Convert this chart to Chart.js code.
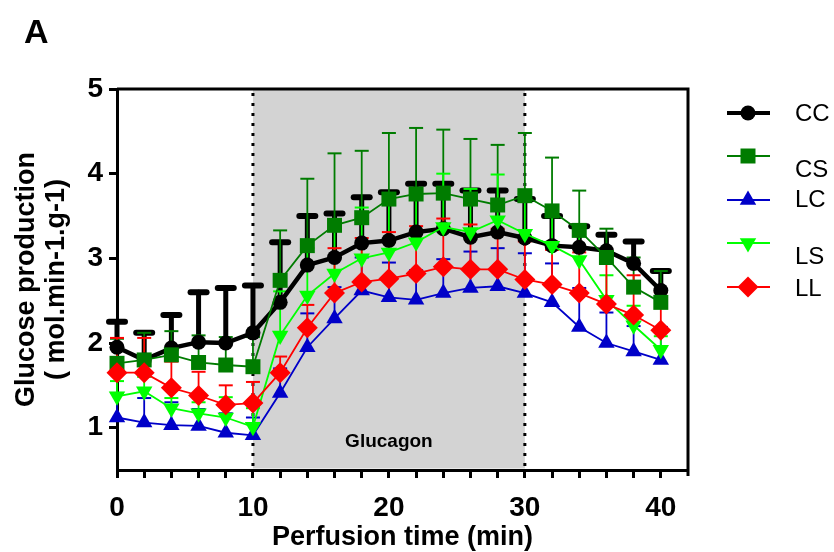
<!DOCTYPE html>
<html>
<head>
<meta charset="utf-8">
<script src="https://cdn.jsdelivr.net/npm/chart.js@4.4.1/dist/chart.umd.min.js"></script>
<style>
  body { margin: 0; background: #fff; }
  canvas { display: block; }
</style>
</head>
<body>
<canvas id="myChart" width="834" height="552"></canvas>
<script>
// perfusion time (min)
var times = [0, 2, 4, 6, 8, 10, 12, 14, 16, 18, 20, 22, 24, 26, 28, 30, 32, 34, 36, 38, 40];

// mean glucose production per group
var ccMean = [1.95, 1.80, 1.94, 2.01, 2.00, 2.12, 2.48, 2.92, 3.01, 3.18, 3.21, 3.31, 3.35, 3.25, 3.31, 3.24, 3.15, 3.13, 3.09, 2.94, 2.62];
var csMean = [1.76, 1.80, 1.86, 1.77, 1.74, 1.72, 2.74, 3.15, 3.39, 3.48, 3.70, 3.76, 3.77, 3.70, 3.63, 3.74, 3.56, 3.33, 3.01, 2.66, 2.48];
var lcMean = [1.12, 1.06, 1.03, 1.02, 0.94, 0.91, 1.41, 1.95, 2.29, 2.62, 2.54, 2.51, 2.59, 2.65, 2.67, 2.59, 2.48, 2.19, 2.00, 1.90, 1.80];
var lsMean = [1.37, 1.43, 1.23, 1.17, 1.12, 1.01, 2.09, 2.56, 2.82, 3.00, 3.07, 3.19, 3.37, 3.31, 3.45, 3.29, 3.15, 2.98, 2.51, 2.21, 1.92];
var llMean = [1.65, 1.65, 1.47, 1.38, 1.27, 1.29, 1.65, 2.18, 2.59, 2.72, 2.76, 2.82, 2.90, 2.87, 2.87, 2.75, 2.69, 2.59, 2.46, 2.33, 2.15];

// upper error (SEM)
var ccErr = [0.30, 0.32, 0.39, 0.59, 0.65, 0.56, 0.71, 0.58, 0.52, 0.54, 0.57, 0.57, 0.53, 0.55, 0.49, 0.46, 0.35, 0.25, 0.19, 0.26, 0.23];
var csErr = [0.29, 0.32, 0.28, 0.32, 0.33, 0.35, 0.59, 0.79, 0.85, 0.79, 0.78, 0.78, 0.75, 0.71, 0.71, 0.74, 0.63, 0.47, 0.34, 0.35, 0.37];
var lcErr = [0.29, 0.29, 0.27, 0.20, 0.23, 0.21, 0.29, 0.40, 0.37, 0.39, 0.41, 0.35, 0.40, 0.43, 0.45, 0.47, 0.46, 0.46, 0.36, 0.30, 0.39];
var lsErr = [0.18, 0.17, 0.12, 0.13, 0.24, 0.22, 0.52, 0.56, 0.51, 0.60, 0.56, 0.55, 0.63, 0.51, 0.54, 0.47, 0.38, 0.39, 0.29, 0.23, 0.16];
var llErr = [0.41, 0.41, 0.31, 0.28, 0.23, 0.25, 0.19, 0.27, 0.53, 0.52, 0.55, 0.56, 0.57, 0.53, 0.48, 0.45, 0.41, 0.48, 0.49, 0.47, 0.45];

var yTicks = [1, 2, 3, 4, 5];
var xLabelTicks = [0, 10, 20, 30, 40];
var glucagonStart = 10, glucagonEnd = 30;

function pts(means) {
  return times.map(function (t, i) { return { x: t, y: means[i] }; });
}

var series = [
  { label: 'CC', data: ccMean, err: ccErr, color: '#000000', style: 'circle', radius: 7.5, rot: 0, width: 4.5, thick: true },
  { label: 'CS', data: csMean, err: csErr, color: '#007c00', style: 'rect', radius: 10.6, rot: 0, width: 1.8 },
  { label: 'LC', data: lcMean, err: lcErr, color: '#0000c8', style: 'triangle', radius: 9.5, rot: 0, width: 1.8 },
  { label: 'LS', data: lsMean, err: lsErr, color: '#00ff00', style: 'triangle', radius: 9.5, rot: 180, width: 1.8 },
  { label: 'LL', data: llMean, err: llErr, color: '#ff0000', style: 'rectRot', radius: 10.5, rot: 0, width: 1.8 }
];

var legendY = [113, 156, 200, 243, 287];
var legendTextY = [114, 170, 200, 257, 289];

var bgPlugin = {
  id: 'bg',
  beforeDatasetsDraw: function (chart) {
    var ctx = chart.ctx, a = chart.chartArea, xs = chart.scales.x, ys = chart.scales.y;
    ctx.save();
    var x1 = xs.getPixelForValue(glucagonStart), x2 = xs.getPixelForValue(glucagonEnd);
    ctx.fillStyle = '#d3d3d3';
    ctx.fillRect(x1, a.top, x2 - x1, a.bottom - a.top - 1.5);

    ctx.fillStyle = '#000';
    ctx.font = 'bold 19px "Liberation Sans", Arial, sans-serif';
    ctx.textAlign = 'center';
    ctx.textBaseline = 'middle';
    ctx.fillText('Glucagon', xs.getPixelForValue(20), 442);

    ctx.strokeStyle = '#000';
    ctx.lineWidth = 3;
    ctx.setLineDash([3, 7]);
    [glucagonStart, glucagonEnd].forEach(function (v) {
      var x = xs.getPixelForValue(v);
      ctx.beginPath();
      ctx.moveTo(x, a.top + 4);
      ctx.lineTo(x, a.bottom);
      ctx.stroke();
    });
    ctx.setLineDash([]);

    // top and right frame
    ctx.beginPath();
    ctx.moveTo(a.left, a.top);
    ctx.lineTo(a.right, a.top);
    ctx.lineTo(a.right, a.bottom + 6);
    ctx.stroke();

    // error bars (upper only)
    series.forEach(function (s) {
      ctx.strokeStyle = s.color;
      ctx.lineCap = s.thick ? 'round' : 'butt';
      var cap = s.thick ? 8 : 7;
      times.forEach(function (t, i) {
        var x = xs.getPixelForValue(t);
        var y0 = ys.getPixelForValue(s.data[i]);
        var y1 = ys.getPixelForValue(s.data[i] + s.err[i]);
        ctx.lineWidth = s.thick ? 5 : 1.8;
        ctx.beginPath();
        ctx.moveTo(x, y0);
        ctx.lineTo(x, y1);
        ctx.stroke();
        ctx.lineWidth = s.thick ? 6 : 2;
        ctx.beginPath();
        ctx.moveTo(x - cap, y1);
        ctx.lineTo(x + cap, y1);
        ctx.stroke();
      });
    });
    ctx.restore();
  },
  afterDraw: function (chart) {
    var ctx = chart.ctx;
    ctx.save();
    ctx.fillStyle = '#000';
    ctx.font = 'bold 34px "Liberation Sans", Arial, sans-serif';
    ctx.textBaseline = 'alphabetic';
    ctx.fillText('A', 24, 43);

    // legend
    series.forEach(function (s, i) {
      var y = legendY[i];
      ctx.strokeStyle = s.color;
      ctx.lineWidth = s.thick ? 4 : 2;
      ctx.beginPath();
      ctx.moveTo(727, y);
      ctx.lineTo(770, y);
      ctx.stroke();
      ctx.fillStyle = s.color;
      Chart.helpers.drawPoint(ctx, { pointStyle: s.style, rotation: s.rot, radius: s.radius, borderWidth: 0 }, 748, y);
      ctx.fillStyle = '#000';
      ctx.font = '24px "Liberation Sans", Arial, sans-serif';
      ctx.textAlign = 'left';
      ctx.textBaseline = 'middle';
      ctx.fillText(s.label, 795, legendTextY[i]);
    });
    ctx.restore();
  }
};

var ctx = document.getElementById('myChart');
var myChart = new Chart(ctx, {
  type: 'line',
  data: {
    datasets: series.map(function (s, i) {
      return {
        label: s.label,
        data: pts(s.data),
        borderColor: s.color,
        backgroundColor: s.color,
        borderWidth: s.width,
        pointStyle: s.style,
        pointRotation: s.rot,
        pointRadius: s.radius,
        pointBorderWidth: 0,
        pointBackgroundColor: s.color,
        tension: 0,
        clip: false,
        order: 5 - i
      };
    })
  },
  options: {
    responsive: false,
    animation: false,
    events: [],
    layout: { padding: { top: 89, right: 146, left: 0, bottom: 0 } },
    plugins: { legend: { display: false }, tooltip: { enabled: false } },
    scales: {
      x: {
        type: 'linear',
        min: 0,
        max: 42,
        afterBuildTicks: function (axis) {
          axis.ticks = times.map(function (v) { return { value: v }; });
        },
        afterFit: function (axis) { axis.height = 82; },
        grid: { drawOnChartArea: false, drawTicks: true, tickLength: 8, tickWidth: 3, tickColor: '#000' },
        border: { display: true, color: '#000', width: 3 },
        ticks: {
          color: '#000',
          padding: 13,
          maxRotation: 0,
          autoSkip: false,
          font: { family: '"Liberation Sans", Arial, sans-serif', size: 28, weight: 'bold' },
          callback: function (v) { return xLabelTicks.indexOf(v) >= 0 ? String(v) : ''; }
        },
        title: {
          display: true,
          text: 'Perfusion time (min)',
          color: '#000',
          padding: { top: 0, bottom: -2 },
          font: { family: '"Liberation Sans", Arial, sans-serif', size: 27, weight: 'bold' }
        }
      },
      y: {
        min: 0.5,
        max: 5,
        afterBuildTicks: function (axis) {
          axis.ticks = yTicks.map(function (v) { return { value: v }; });
        },
        afterFit: function (axis) { axis.width = 117; },
        grid: { drawOnChartArea: false, drawTicks: true, tickLength: 8, tickWidth: 3, tickColor: '#000' },
        border: { display: true, color: '#000', width: 3 },
        ticks: {
          color: '#000',
          padding: 6,
          font: { family: '"Liberation Sans", Arial, sans-serif', size: 28, weight: 'bold' }
        },
        title: {
          display: true,
          text: ['Glucose production', '( mol.min-1.g-1)'],
          color: '#000',
          padding: { top: 12, bottom: 0 },
          font: { family: '"Liberation Sans", Arial, sans-serif', size: 27, weight: 'bold', lineHeight: 1.11 }
        }
      }
    }
  },
  plugins: [bgPlugin]
});
</script>
</body>
</html>
